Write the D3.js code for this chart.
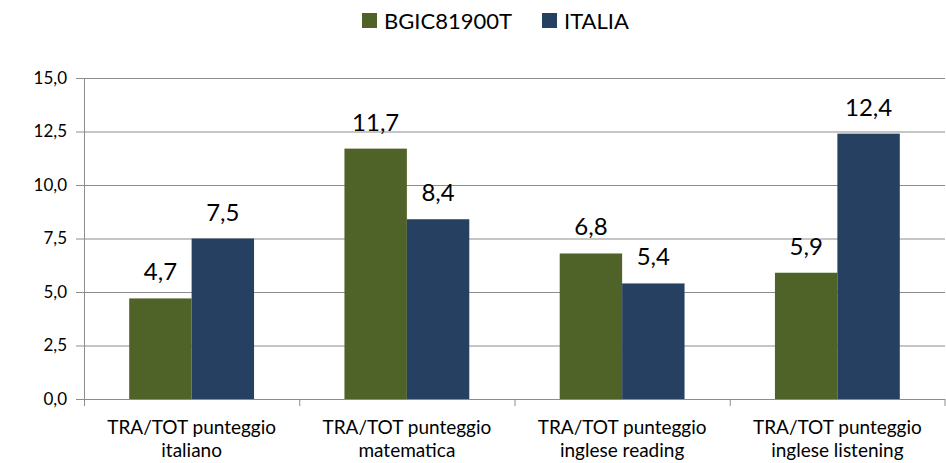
<!DOCTYPE html>
<html>
<head>
<meta charset="utf-8">
<script src="https://cdn.jsdelivr.net/npm/d3@7"></script>
<style>
  body { margin: 0; background: #fff; }
  text { font-family: Lato, "Open Sans", sans-serif; fill: #000; }
</style>
</head>
<body>
<div class="chart"></div>
<script>
// Chart data
var categories = [
  ["TRA/TOT punteggio", "italiano"],
  ["TRA/TOT punteggio", "matematica"],
  ["TRA/TOT punteggio", "inglese reading"],
  ["TRA/TOT punteggio", "inglese listening"]
];
var seriesNames = ["BGIC81900T", "ITALIA"];
var schoolValues = [4.7, 11.7, 6.8, 5.9];
var italyValues = [7.5, 8.4, 5.4, 12.4];
var yTicks = [0, 2.5, 5, 7.5, 10, 12.5, 15];

var colors = ["#4F6228", "#254061"];

var svgWidth = 946;
var svgHeight = 463;
var margin = { top: 78, right: 1, bottom: 64, left: 84 };
var width = svgWidth - margin.left - margin.right;
var height = svgHeight - margin.top - margin.bottom;

var svg = d3.select(".chart").append("svg")
  .attr("width", svgWidth)
  .attr("height", svgHeight);

var chartGroup = svg.append("g")
  .attr("transform", `translate(${margin.left}, ${margin.top})`);

// Build rows from the arrays
var rows = categories.map(function(c, i) {
  return { idx: i, label: c, values: [schoolValues[i], italyValues[i]] };
});

var xScale = d3.scaleBand()
  .domain(d3.range(categories.length))
  .range([0, width])
  .paddingInner(0.42)
  .paddingOuter(0.21);

var xInner = d3.scaleBand()
  .domain([0, 1])
  .range([0, xScale.bandwidth()]);

var yScale = d3.scaleLinear()
  .domain([0, 15])
  .range([height, 0]);

var fmt = function(v) { return d3.format(".1f")(v).replace(".", ","); };

// Gridlines
chartGroup.append("g")
  .selectAll("line")
  .data(yTicks.slice(1))
  .enter()
  .append("line")
  .attr("x1", 0)
  .attr("x2", width)
  .attr("y1", d => yScale(d) + 0.5)
  .attr("y2", d => yScale(d) + 0.5)
  .attr("stroke", "#8c8c8c")
  .attr("stroke-width", 1);

// Left axis
var leftAxis = d3.axisLeft(yScale)
  .tickValues(yTicks)
  .tickSize(8)
  .tickPadding(9)
  .tickFormat(fmt);
var yAxis = chartGroup.append("g").call(leftAxis);
yAxis.select(".domain").attr("stroke", "#8c8c8c");
yAxis.selectAll(".tick line").attr("stroke", "#8c8c8c");
yAxis.selectAll(".tick text").attr("font-size", "17px").attr("font-family", "Lato, sans-serif");

// Bars
var groups = chartGroup.selectAll(".cat")
  .data(rows)
  .enter()
  .append("g")
  .attr("transform", d => `translate(${xScale(d.idx)}, 0)`);

groups.selectAll("rect")
  .data(d => d.values.map((v, k) => ({ k: k, v: v })))
  .enter()
  .append("rect")
  .attr("x", d => xInner(d.k))
  .attr("y", d => yScale(d.v))
  .attr("width", xInner.bandwidth())
  .attr("height", d => height - yScale(d.v))
  .attr("fill", d => colors[d.k]);

groups.selectAll(".val")
  .data(d => d.values.map((v, k) => ({ k: k, v: v })))
  .enter()
  .append("text")
  .attr("x", d => xInner(d.k) + xInner.bandwidth() / 2)
  .attr("y", d => yScale(d.v) - 18)
  .attr("text-anchor", "middle")
  .attr("font-size", "24px")
  .text(d => fmt(d.v));

// Bottom axis line and category ticks
var catStep = width / categories.length;
chartGroup.append("line")
  .attr("x1", 0).attr("x2", width)
  .attr("y1", height + 0.5).attr("y2", height + 0.5)
  .attr("stroke", "#8c8c8c");
chartGroup.append("g")
  .selectAll("line")
  .data(d3.range(categories.length + 1))
  .enter()
  .append("line")
  .attr("x1", d => Math.min(d * catStep, width - 0.5) + 0.5)
  .attr("x2", d => Math.min(d * catStep, width - 0.5) + 0.5)
  .attr("y1", height)
  .attr("y2", height + 7)
  .attr("stroke", "#8c8c8c");

// Category labels
var catLabels = chartGroup.selectAll(".catlabel")
  .data(rows)
  .enter()
  .append("text")
  .attr("text-anchor", "middle")
  .attr("font-size", "19px")
  .attr("transform", d => `translate(${(d.idx + 0.5) * catStep}, ${height + 35})`);
catLabels.selectAll("tspan")
  .data(d => d.label)
  .enter()
  .append("tspan")
  .attr("x", 0)
  .attr("y", (d, i) => i * 23)
  .text(d => d);

// Legend
var legend = svg.append("g").attr("transform", "translate(362, 13)");
var legendX = [0, 180];
seriesNames.forEach(function(name, i) {
  var item = legend.append("g").attr("transform", `translate(${legendX[i]}, 0)`);
  item.append("rect")
    .attr("width", 15)
    .attr("height", 15)
    .attr("fill", colors[i]);
  item.append("text")
    .attr("x", 22)
    .attr("y", 16)
    .attr("font-size", "22px")
    .text(name);
});
</script>
</body>
</html>
